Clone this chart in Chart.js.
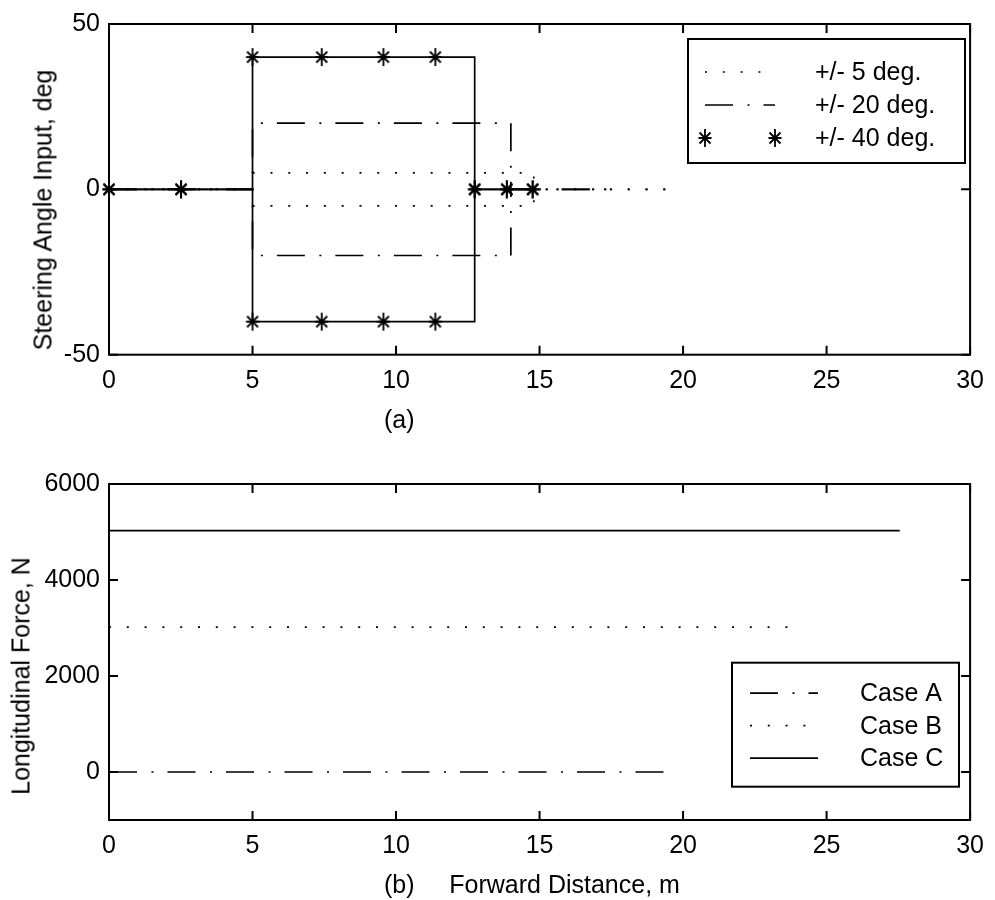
<!DOCTYPE html>
<html>
<head>
<meta charset="utf-8">
<script src="https://cdn.jsdelivr.net/npm/chart.js@4.4.0/dist/chart.umd.min.js"></script>
<style>
  body { margin: 0; background: #fff; width: 995px; height: 900px; position: relative; overflow: hidden;
         font-family: "Liberation Sans", Arial, sans-serif; color: #000; }
  canvas { position: absolute; left: 0; }
  .xlabel { position: absolute; font-size: 25px; line-height: 25px; white-space: pre; }
  .ytitle { position: absolute; font-size: 25px; line-height: 25px; white-space: nowrap;
            transform: translate(-50%, -50%) rotate(-90deg); }
</style>
</head>
<body>
<canvas id="angleChart" width="995" height="420" style="top:0"></canvas>
<canvas id="forceChart" width="995" height="480" style="top:420px"></canvas>

<div class="ytitle" style="left:43px; top:210px">Steering Angle Input, deg</div>
<div class="ytitle" style="left:21px; top:676px">Longitudinal Force, N</div>
<div class="xlabel" style="left:384px; top:407px">(a)</div>
<div class="xlabel" style="left:384px; top:872px">(b)     Forward Distance, m</div>

<script>
// ---- data ----
const distTicks = [0, 5, 10, 15, 20, 25, 30];
const angleTicks = [-50, 0, 50];
const forceTicks = [0, 2000, 4000, 6000];

// (a) steering input vs forward distance, stairs
const angleLabels = ['+/- 5 deg.', '+/- 20 deg.', '+/- 40 deg.'];
const dist5 = [0, 5.0, 14.8, 19.7];
const steerPos5 = [0, 5, 0, 0];
const steerNeg5 = [0, -5, 0, 0];
const dist20 = [0, 5.0, 14.0, 17.7];
const steerPos20 = [0, 20, 0, 0];
const steerNeg20 = [0, -20, 0, 0];
const dist40 = [0, 2.51, 5.0, 7.41, 9.56, 11.37, 12.74, 13.86, 14.76];
const steerPos40 = [0, 0, 40, 40, 40, 40, 0, 0, 0];
const steerNeg40 = [0, 0, -40, -40, -40, -40, 0, 0, 0];

// (b) longitudinal force vs forward distance
const caseLabels = ['Case A', 'Case B', 'Case C'];
const distA = [0, 19.5];
const forceA = [0, 0];
const distB = [0, 24.1];
const forceB = [3020, 3020];
const distC = [0, 27.55];
const forceC = [5030, 5030];

// ---- styles ----
const FONT = { family: '"Liberation Sans", Arial, sans-serif', size: 25 };
const DOTTED = [2, 15.8];
const DASHDOT = [28, 14.5, 2, 14];
const LW = 1.7;

const pts = (xs, ys) => xs.map((x, i) => ({ x: x, y: ys[i] }));

// matlab style asterisk marker
const star = document.createElement('canvas');
star.width = 16; star.height = 20;
(function () {
  const c = star.getContext('2d');
  c.strokeStyle = '#000'; c.lineWidth = 1.8;
  c.beginPath();
  c.moveTo(8, 1); c.lineTo(8, 19);
  c.moveTo(1.5, 10); c.lineTo(14.5, 10);
  c.moveTo(2.5, 4.5); c.lineTo(13.5, 15.5);
  c.moveTo(2.5, 15.5); c.lineTo(13.5, 4.5);
  c.stroke();
})();

// box with inward ticks on all four sides
const boxFrame = {
  id: 'boxFrame',
  afterDatasetsDraw(chart) {
    const { ctx, chartArea: a, scales } = chart;
    const x = scales.x, y = scales.y;
    ctx.save();
    ctx.strokeStyle = '#000';
    ctx.lineWidth = 2;
    ctx.setLineDash([]);
    ctx.strokeRect(a.left, a.top, a.right - a.left, a.bottom - a.top);
    ctx.beginPath();
    x.ticks.forEach(t => {
      const px = x.getPixelForValue(t.value);
      ctx.moveTo(px, a.bottom); ctx.lineTo(px, a.bottom - 9);
      ctx.moveTo(px, a.top); ctx.lineTo(px, a.top + 9);
    });
    y.ticks.forEach(t => {
      const py = y.getPixelForValue(t.value);
      ctx.moveTo(a.left, py); ctx.lineTo(a.left + 9, py);
      ctx.moveTo(a.right, py); ctx.lineTo(a.right - 9, py);
    });
    ctx.stroke();
    ctx.restore();
  }
};

// legend box drawn inside the plot
const boxLegend = {
  id: 'boxLegend',
  afterDraw(chart, args, o) {
    const ctx = chart.ctx;
    ctx.save();
    ctx.fillStyle = '#fff';
    ctx.fillRect(o.left, o.top, o.width, o.height);
    ctx.strokeStyle = '#000';
    ctx.lineWidth = 2;
    ctx.setLineDash([]);
    ctx.strokeRect(o.left, o.top, o.width, o.height);
    ctx.font = '25px "Liberation Sans", Arial, sans-serif';
    ctx.fillStyle = '#000';
    ctx.textBaseline = 'middle';
    o.entries.forEach((e, i) => {
      const ds = chart.data.datasets[e.dataset];
      const yy = o.top + o.firstRow + i * o.rowGap;
      if (e.line) {
        ctx.beginPath();
        ctx.lineWidth = LW;
        ctx.setLineDash(ds.borderDash || []);
        ctx.moveTo(o.sampleFrom, yy);
        ctx.lineTo(o.sampleTo, yy);
        ctx.stroke();
      }
      if (e.marker) {
        ctx.drawImage(star, o.sampleFrom - star.width / 2, yy - star.height / 2);
        ctx.drawImage(star, o.sampleTo - star.width / 2, yy - star.height / 2);
      }
      ctx.setLineDash([]);
      ctx.fillText(ds.label, o.textX, yy + 1);
    });
    ctx.restore();
  }
};

function axes(yMin, yMax, yTickVals, xAxisHeight) {
  return {
    x: {
      type: 'linear', min: 0, max: 30,
      afterBuildTicks: s => { s.ticks = distTicks.map(v => ({ value: v })); },
      afterFit: s => { s.height = xAxisHeight; },
      grid: { display: false, drawTicks: false },
      border: { display: false },
      ticks: { color: '#000', font: FONT, padding: 11, maxRotation: 0, autoSkip: false,
               callback: v => String(v) }
    },
    y: {
      type: 'linear', min: yMin, max: yMax,
      afterBuildTicks: s => { s.ticks = yTickVals.map(v => ({ value: v })); },
      afterFit: s => { s.width = 109; },
      grid: { display: false, drawTicks: false },
      border: { display: false },
      ticks: { color: '#000', font: FONT, padding: 9, autoSkip: false,
               callback: v => String(v) }
    }
  };
}

const lineDs = (label, data, dash, extra) => Object.assign({
  label: label, data: data, borderColor: '#000', backgroundColor: '#000',
  borderWidth: LW, borderDash: dash, pointRadius: 0, stepped: true,
  fill: false, clip: false
}, extra || {});

// (a)
new Chart(document.getElementById('angleChart'), {
  type: 'line',
  data: {
    datasets: [
      lineDs(angleLabels[0], pts(dist5, steerPos5), DOTTED, { order: 3 }),
      lineDs(angleLabels[1], pts(dist20, steerPos20), DASHDOT, { order: 2 }),
      lineDs(angleLabels[2], pts(dist40, steerPos40), [], { order: 1, pointRadius: 6, pointStyle: star }),
      lineDs(angleLabels[0], pts(dist5, steerNeg5), DOTTED, { order: 3 }),
      lineDs(angleLabels[1], pts(dist20, steerNeg20), DASHDOT, { order: 2 }),
      lineDs(angleLabels[2], pts(dist40, steerNeg40), [], { order: 1, pointRadius: 6, pointStyle: star })
    ]
  },
  options: {
    responsive: false,
    animation: false,
    events: [],
    layout: { padding: { top: 20, right: 18, left: 0, bottom: 0 } },
    scales: axes(-50, 50, angleTicks, 65.3),
    plugins: {
      legend: { display: false },
      tooltip: { enabled: false },
      boxLegend: {
        left: 688, top: 39, width: 277, height: 124,
        firstRow: 33, rowGap: 33, sampleFrom: 705, sampleTo: 775, textX: 815,
        entries: [
          { dataset: 0, line: true },
          { dataset: 1, line: true },
          { dataset: 2, marker: true }
        ]
      }
    }
  },
  plugins: [boxFrame, boxLegend]
});

// (b)
new Chart(document.getElementById('forceChart'), {
  type: 'line',
  data: {
    datasets: [
      lineDs(caseLabels[0], pts(distA, forceA), DASHDOT),
      lineDs(caseLabels[1], pts(distB, forceB), DOTTED),
      lineDs(caseLabels[2], pts(distC, forceC), [])
    ]
  },
  options: {
    responsive: false,
    animation: false,
    events: [],
    layout: { padding: { top: 64, right: 18, left: 0, bottom: 0 } },
    scales: axes(-1000, 6000, forceTicks, 80),
    plugins: {
      legend: { display: false },
      tooltip: { enabled: false },
      boxLegend: {
        left: 732, top: 242.7, width: 227, height: 124,
        firstRow: 30.5, rowGap: 32.5, sampleFrom: 750, sampleTo: 818, textX: 860,
        entries: [
          { dataset: 0, line: true },
          { dataset: 1, line: true },
          { dataset: 2, line: true }
        ]
      }
    }
  },
  plugins: [boxFrame, boxLegend]
});
</script>
</body>
</html>
